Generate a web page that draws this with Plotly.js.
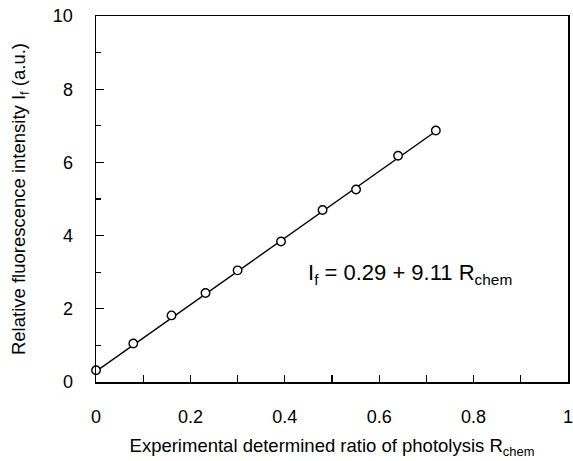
<!DOCTYPE html>
<html>
<head>
<meta charset="utf-8">
<script src="https://cdn.plot.ly/plotly-3.0.1.min.js"></script>
<style>html,body{margin:0;padding:0;background:#fff;}#chart{width:573px;height:461px;}</style>
</head>
<body>
<div id="chart"></div>
<script>
// Measured data points
var ratioX = [0.0, 0.079, 0.160, 0.232, 0.300, 0.392, 0.480, 0.551, 0.640, 0.720];
var intensityY = [0.32, 1.05, 1.82, 2.43, 3.05, 3.84, 4.70, 5.26, 6.18, 6.87];
// Fitted line endpoints
var fitX = [0.0, 0.72];
var fitY = [0.29, 6.85];
var xTickVals = [0, 0.2, 0.4, 0.6, 0.8, 1];
var xTickText = ['0', '0.2', '0.4', '0.6', '0.8', '1'];
var yTickVals = [0, 2, 4, 6, 8, 10];
var yTickText = ['0', '2', '4', '6', '8', '10'];

var font = 'Liberation Sans, Arial, sans-serif';
var traces = [
  {x: fitX, y: fitY, mode: 'lines', line: {color: '#000', width: 1.4}, hoverinfo: 'skip', showlegend: false},
  {x: ratioX, y: intensityY, mode: 'markers', cliponaxis: false,
   marker: {symbol: 'circle', size: 8.5, color: '#fff', line: {color: '#000', width: 1.4}}, showlegend: false}
];
var layout = {
  width: 573, height: 461,
  margin: {l: 96, r: 5, t: 16, b: 79},
  paper_bgcolor: '#fff', plot_bgcolor: '#fff',
  font: {family: font, color: '#000', size: 18},
  xaxis: {
    range: [0, 1], tickmode: 'array', tickvals: xTickVals, ticktext: xTickText,
    ticks: 'inside', ticklen: 7, tickwidth: 1.2, tickcolor: '#000',
    minor: {dtick: 0.1, ticks: 'inside', ticklen: 7, tickwidth: 1.2, tickcolor: '#000'},
    showline: true, linecolor: '#000', linewidth: 1.5, mirror: true,
    showgrid: false, zeroline: false, ticklabelstandoff: 18, ticklabeloverflow: 'allow',
    tickfont: {size: 18},
    title: {text: 'Experimental determined ratio of photolysis R<sub>chem</sub>', font: {size: 18.5}, standoff: 13}
  },
  yaxis: {
    range: [0, 10], tickmode: 'array', tickvals: yTickVals, ticktext: yTickText,
    ticks: 'inside', ticklen: 8, tickwidth: 1.2, tickcolor: '#000',
    minor: {dtick: 1, ticks: 'inside', ticklen: 5, tickwidth: 1.2, tickcolor: '#000'},
    showline: true, linecolor: '#000', linewidth: 1.5, mirror: true,
    showgrid: false, zeroline: false, ticklabelstandoff: 18,
    tickfont: {size: 18},
    title: {text: 'Relative fluorescence intensity I<sub>f</sub> (a.u.)', font: {size: 18.5}, standoff: 22}
  },
  annotations: [{
    x: 0.666, y: 2.96, xref: 'x', yref: 'y', showarrow: false, xanchor: 'center', yanchor: 'middle',
    text: 'I<sub>f</sub> = 0.29 + 9.11 R<sub>chem</sub>', font: {size: 22, family: font, color: '#000'}
  }]
};
Plotly.newPlot('chart', traces, layout, {staticPlot: true, displayModeBar: false});
</script>
</body>
</html>
